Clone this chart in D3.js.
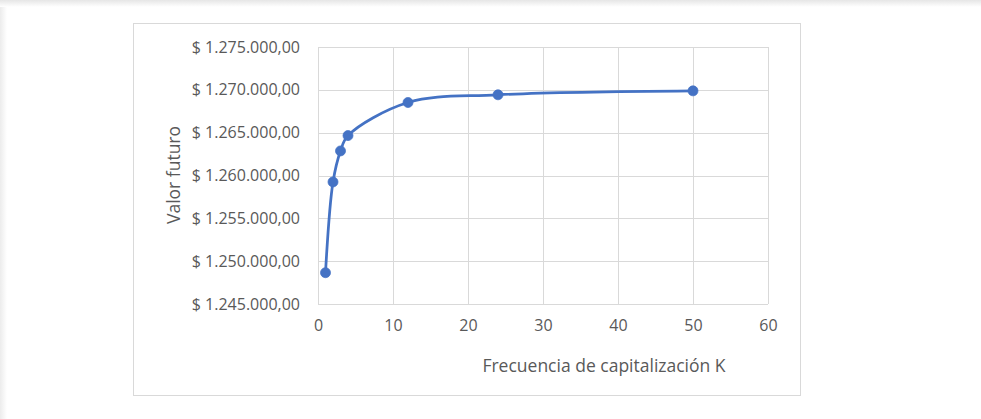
<!DOCTYPE html>
<html>
<head>
<meta charset="utf-8">
<script src="https://cdn.jsdelivr.net/npm/d3@7"></script>
<style>
  html, body { margin: 0; padding: 0; background: #fff; }
  svg { display: block; }
  text { font-family: "Open Sans", "Noto Sans", sans-serif; fill: #595959; }
</style>
</head>
<body>
<svg id="chart" width="981" height="419"></svg>
<script>
// Future value by compounding frequency K
const frequencies = [1, 2, 3, 4, 12, 24, 50];
const futureValues = [1248650, 1259250, 1262870, 1264660, 1268520, 1269420, 1269880];
const xTicks = [0, 10, 20, 30, 40, 50, 60];
const yTicks = [1245000, 1250000, 1255000, 1260000, 1265000, 1270000, 1275000];
const xTitle = "Frecuencia de capitalización K";
const yTitle = "Valor futuro";

const svg = d3.select("#chart");
const W = 981, H = 419;

// page edges (soft shadow at top and left)
const defs = svg.append("defs");
const gTop = defs.append("linearGradient").attr("id", "shTop").attr("x1", 0).attr("y1", 0).attr("x2", 0).attr("y2", 1);
gTop.append("stop").attr("offset", "0%").attr("stop-color", "#e6e6e6");
gTop.append("stop").attr("offset", "100%").attr("stop-color", "#ffffff");
const gLeft = defs.append("linearGradient").attr("id", "shLeft").attr("x1", 0).attr("y1", 0).attr("x2", 1).attr("y2", 0);
gLeft.append("stop").attr("offset", "0%").attr("stop-color", "#ececec");
gLeft.append("stop").attr("offset", "100%").attr("stop-color", "#ffffff");
svg.append("rect").attr("x", 0).attr("y", 0).attr("width", 7).attr("height", H).attr("fill", "url(#shLeft)");
svg.append("rect").attr("x", 0).attr("y", 0).attr("width", W).attr("height", 7).attr("fill", "url(#shTop)");

// chart frame
svg.append("rect")
  .attr("x", 133.5).attr("y", 23.5).attr("width", 667).attr("height", 372)
  .attr("fill", "#fff").attr("stroke", "#d9d9d9").attr("stroke-width", 1);

const plot = { left: 318, right: 768, top: 47, bottom: 304 };

const x = d3.scaleLinear().domain([0, 60]).range([plot.left, plot.right]);
const y = d3.scaleLinear().domain([1245000, 1275000]).range([plot.bottom, plot.top]);

const fmt = v => "$ " + d3.format(",.2f")(v).replace(/,/g, "#").replace(/\./g, ",").replace(/#/g, ".");

// gridlines
const grid = svg.append("g");
grid.selectAll("line.h").data(yTicks).join("line")
  .attr("x1", plot.left).attr("x2", plot.right)
  .attr("y1", d => Math.round(y(d)) + 0.5).attr("y2", d => Math.round(y(d)) + 0.5)
  .attr("stroke", "#d9d9d9").attr("stroke-width", 1);
grid.selectAll("line.v").data(xTicks).join("line")
  .attr("y1", plot.top).attr("y2", plot.bottom)
  .attr("x1", d => Math.round(x(d)) + 0.5).attr("x2", d => Math.round(x(d)) + 0.5)
  .attr("stroke", "#d9d9d9").attr("stroke-width", 1);

// axes (labels only, Excel-style)
const xAxis = svg.append("g").attr("transform", `translate(0,${plot.bottom})`)
  .call(d3.axisBottom(x).tickValues(xTicks).tickSize(0).tickPadding(17));
const yAxis = svg.append("g").attr("transform", `translate(${plot.left},0)`)
  .call(d3.axisLeft(y).tickValues(yTicks).tickSize(0).tickPadding(18).tickFormat(fmt));
[xAxis, yAxis].forEach(a => {
  a.select(".domain").remove();
  a.selectAll("text").attr("font-size", 16).attr("fill", "#5f5f5f")
    .attr("font-family", '"Open Sans", "Noto Sans", sans-serif');
});
xAxis.selectAll("text").attr("dy", "0.65em");

// series line
const pts = frequencies.map((k, i) => [k, futureValues[i]]);
const line = d3.line().x(d => x(d[0])).y(d => y(d[1])).curve(d3.curveCatmullRom.alpha(0.5));
svg.append("path").datum(pts)
  .attr("d", line).attr("fill", "none")
  .attr("stroke", "#4472c4").attr("stroke-width", 2.75).attr("stroke-linejoin", "round");
svg.selectAll("circle.pt").data(pts).join("circle")
  .attr("cx", d => x(d[0])).attr("cy", d => y(d[1])).attr("r", 5)
  .attr("fill", "#4472c4").attr("stroke", "#4472c4").attr("stroke-width", 0.75);

// axis titles
svg.append("text").attr("x", 604).attr("y", 372).attr("text-anchor", "middle")
  .attr("font-size", 17.5).attr("fill", "#5f5f5f").text(xTitle);
svg.append("text").attr("transform", "translate(180,175) rotate(-90)").attr("text-anchor", "middle")
  .attr("font-size", 17.5).attr("fill", "#5f5f5f").text(yTitle);
</script>
</body>
</html>
